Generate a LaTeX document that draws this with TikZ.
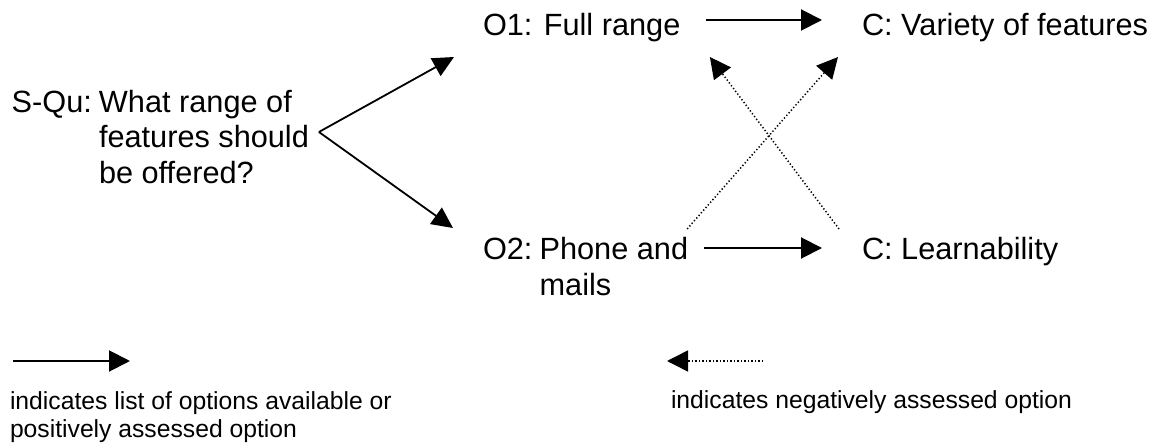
\documentclass[tikz,border=0pt]{standalone}
\usepackage{fontspec}
\setmainfont{Liberation Sans}
\usetikzlibrary{arrows.meta,calc}
\begin{document}
\begin{tikzpicture}[x=1pt,y=-1pt,
  txt/.style={inner sep=0pt, outer sep=0pt, anchor=base west, font=\fontsize{30.7}{35.3}\selectfont},
  legtxt/.style={inner sep=0pt, outer sep=0pt, anchor=base west, font=\fontsize{24.7}{28}\selectfont},
  posarrow/.style={line width=2pt, -{Triangle[length=21pt,width=21pt]}},
  forkarrow/.style={line width=1.8pt, -{Triangle[length=21pt,width=20pt]}},
  negarrow/.style={line width=1.5pt, dash pattern=on 1.3pt off 2.2pt, -{Triangle[length=21pt,width=21pt]}},
]
\path[use as bounding box, fill=white] (0,0) rectangle (1158,443);

% main nodes
\node[txt] (sq) at (11.7,112.5) {\begin{tabular}[t]{@{}l@{}}\makebox[87.3pt][l]{S-Qu:}What range of\\\hspace*{87.3pt}features should\\\hspace*{87.3pt}be offered?\end{tabular}};
\node[txt] (o1) at (483,36) {O1: Full range};
\node[txt] (cv) at (862,36) {C: Variety of features};
\node[txt] (o2) at (483,260) {\begin{tabular}[t]{@{}l@{}}\makebox[56.6pt][l]{O2:}Phone and\\\hspace*{56.6pt}mails\end{tabular}};
\node[txt] (cl) at (862,260) {C: Learnability};

% fork from the question to the options
\coordinate (fork) at ($(sq.base east)+(10,19.5)$);
\draw[forkarrow] (fork) -- ($(o1.base west)+(-29,21)$);
\draw[forkarrow] (fork) -- ($(o2.base west)+(-30,-32)$);

% positive assessments
\draw[posarrow] ($(o1.base east)+(25.5,-16)$) -- ($(cv.base west)+(-40,-16)$);
\draw[posarrow] ($(o2.base east)+(16,-12)$) -- ($(cl.base west)+(-40,-12)$);

% negative assessments
\draw[negarrow] ($(o2.base east)+(-1,-31)$) -- ($(cv.base west)+(-24,21)$);
\draw[negarrow] ($(cl.base west)+(-23,-31)$) -- ($(o1.base east)+(29.5,21)$);

% legend
\coordinate (lpa) at (13,361);
\coordinate (lpb) at (130,361);
\draw[posarrow] (lpa) -- (lpb);
\node[legtxt] (lpt) at (10,409) {\begin{tabular}[t]{@{}l@{}}indicates list of options available or\\positively assessed option\end{tabular}};

\coordinate (lna) at (763,361);
\coordinate (lnb) at (667,361);
\draw[negarrow] (lna) -- (lnb);
\node[legtxt] (lnt) at (671,408) {indicates negatively assessed option};
\end{tikzpicture}
\end{document}
